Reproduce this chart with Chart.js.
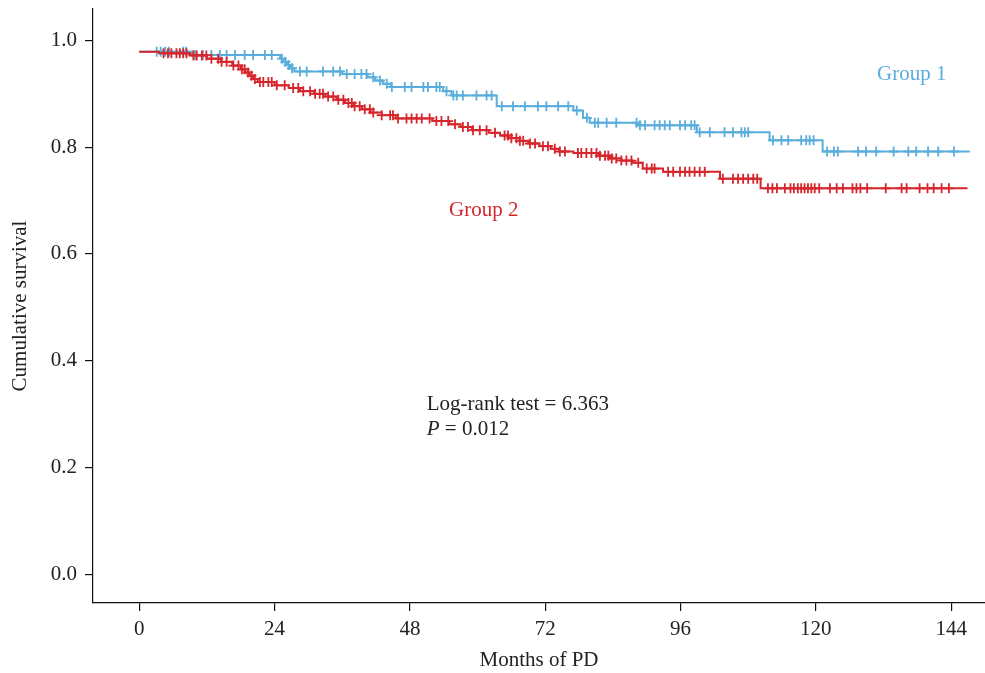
<!DOCTYPE html>
<html>
<head>
<meta charset="utf-8">
<script src="https://cdn.jsdelivr.net/npm/chart.js@4/dist/chart.umd.min.js"></script>
<style>
  html, body { margin: 0; padding: 0; background: #fff; }
  #km { display: block; }
</style>
</head>
<body>
<canvas id="km" width="985" height="673"></canvas>
<script>
// Kaplan–Meier: two groups, stepped survival + censor crosses
const BLUE = "#5aaedc";
const RED = "#d6262c";
const FONT = "'Liberation Serif', 'DejaVu Serif', serif";
const FS = 21;

const xTicks = [0, 24, 48, 72, 96, 120, 144];
const yTicks = [0, 0.2, 0.4, 0.6, 0.8, 1.0];

// step points: [month, cumulative survival] — drop happens at the month
const g1Steps = [
  [0, 0.979], [9.5, 0.973], [25, 0.966], [25.6, 0.960], [26.2, 0.954], [26.8, 0.948],
  [27.5, 0.942], [36, 0.937], [40.5, 0.931], [41.8, 0.925], [43.2, 0.919], [44.6, 0.913],
  [53.9, 0.905], [55.4, 0.897], [63.4, 0.877], [77, 0.869], [78.7, 0.855], [79.9, 0.846],
  [88.5, 0.841], [98.9, 0.828], [111.8, 0.813], [121.2, 0.792], [147.3, 0.792],
];
const g1Censor = [
  3.1, 3.8, 4.6, 5.3, 7.8, 8.3, 9.9, 11.3, 12.8, 14.3, 15.5, 17, 18.7, 20.2, 22.3, 23.5,
  25.3, 25.9, 26.5, 27.1, 28.5, 29.7, 32.6, 34.4, 35.6, 36.8, 38.2, 39.4, 40.3, 41.5,
  42.7, 43.9, 44.8, 47.1, 48.3, 50.4, 51.2, 52.7, 53.3, 54.5, 55.7, 56.3, 57.4, 59.8,
  61.6, 62.5, 64.3, 66.3, 68.4, 70.7, 72.2, 74.3, 76.1, 77.6, 79.4, 80.8, 81.4, 82.9,
  84.6, 88.2, 88.8, 89.7, 91.4, 92.3, 93.2, 94.1, 95.9, 96.8, 97.9, 98.5, 99.4, 101.2,
  103.8, 105.3, 106.8, 107.4, 108, 112.4, 113.9, 115.1, 117.4, 118.3, 118.9, 119.6,
  122, 123.2, 123.9, 127.5, 128.9, 130.7, 133.8, 136.4, 137.8, 139.9, 141.7, 144.5,
];

const g2Steps = [
  [0, 0.979], [3.5, 0.976], [9, 0.972], [12, 0.966], [14.5, 0.960], [16.5, 0.953],
  [18, 0.946], [18.8, 0.940], [19.5, 0.934], [20.2, 0.928], [21, 0.922], [24, 0.916],
  [26.5, 0.911], [28.5, 0.905], [31, 0.900], [33, 0.895], [35, 0.889], [36.5, 0.883],
  [38, 0.877], [39.5, 0.871], [41, 0.865], [43, 0.860], [45.5, 0.854], [52, 0.849],
  [55, 0.843], [57, 0.838], [59, 0.832], [62, 0.827], [64, 0.822], [65.5, 0.817],
  [67.5, 0.812], [69, 0.807], [71, 0.802], [73, 0.797], [74.5, 0.792], [77, 0.789],
  [81.5, 0.784], [83.5, 0.779], [85.5, 0.775], [87.5, 0.771], [89.3, 0.760],
  [92.9, 0.754], [103, 0.741], [110.2, 0.723], [146.9, 0.723],
];
const g2Censor = [
  4.3, 5.1, 5.7, 6.6, 7.2, 7.8, 8.4, 9.6, 10.2, 11.1, 11.9, 12.8, 14, 14.6, 15.5,
  16.7, 17.6, 18.2, 18.7, 19.3, 19.9, 20.5, 21.4, 22, 22.9, 23.5, 24.4, 25.8, 27.3,
  28.2, 29.1, 30.3, 31.2, 32, 32.6, 33.5, 34.4, 35.3, 36.2, 37.1, 37.7, 38.2, 39.1,
  40, 40.9, 41.5, 43, 44.5, 45, 45.9, 47.4, 48.3, 49.2, 50.1, 51.5, 52.7, 53.6, 54.8,
  56, 57.4, 58.3, 59.2, 60.4, 61.6, 63.1, 64.8, 65.4, 66, 66.9, 67.5, 68.1, 69.3, 70.2,
  71.6, 72.5, 73.7, 74.6, 75.5, 77.8, 78.4, 79.3, 80.2, 81.1, 81.7, 82.6, 83.2, 83.8,
  84.6, 85.5, 86.4, 87.3, 88.5, 90, 90.9, 91.4, 93.8, 94.7, 95.9, 96.8, 97.6, 98.5,
  99.4, 100.3, 103.5, 105.3, 106.2, 107.1, 108, 108.9, 109.6, 111.5, 112.3, 113.1,
  114.5, 115.5, 116.1, 116.8, 117.4, 118, 118.6, 119.2, 119.8, 120.6, 122.5, 123.7,
  124.8, 126.5, 127.2, 127.9, 129.1, 132.4, 135.2, 136.1, 138.4, 139.8, 140.9, 142.3, 143.6,
];

// survival value in effect at month t (last step at or before t)
function survAt(steps, t) {
  let s = steps[0][1];
  for (const [m, v] of steps) if (m <= t) s = v;
  return s;
}
const toXY = (steps) => steps.map(([x, y]) => ({ x, y }));
const censorXY = (steps, times) => times.map((t) => ({ x: t, y: survAt(steps, t) }));

const lineDs = (steps, color) => ({
  data: toXY(steps), borderColor: color, borderWidth: 2, stepped: "before",
  pointRadius: 0, fill: false,
});
const censorDs = (steps, times, color) => ({
  data: censorXY(steps, times), showLine: false, pointStyle: "cross",
  pointRadius: 5, pointBorderWidth: 1.8, borderColor: color, pointBorderColor: color,
});

// free text placed in data coordinates
const notes = [
  { text: "Group 1", x: 137, y: 0.937, color: BLUE, align: "center" },
  { text: "Group 2", x: 61.1, y: 0.682, color: RED, align: "center" },
  { text: "Log-rank test = 6.363", x: 51, y: 0.318, color: "#222", align: "left" },
];

const axisGrid = { display: true, drawOnChartArea: false, drawTicks: true, tickLength: 8, color: "#111", lineWidth: 1.2 };

new Chart(document.getElementById("km"), {
  type: "line",
  data: {
    // first dataset draws on top
    datasets: [
      censorDs(g2Steps, g2Censor, RED), lineDs(g2Steps, RED),
      censorDs(g1Steps, g1Censor, BLUE), lineDs(g1Steps, BLUE),
    ],
  },
  options: {
    responsive: false,
    animation: false,
    // autoPadding would reserve room for the point radius on the right edge
    layout: { autoPadding: false, padding: { top: 9, right: 0, left: 0, bottom: 0 } },
    plugins: { legend: { display: false }, tooltip: { enabled: false } },
    scales: {
      x: {
        type: "linear", min: -8.2, max: 150,
        afterBuildTicks: (s) => { s.ticks = xTicks.map((v) => ({ value: v })); },
        afterFit: (s) => { s.height = 70; s.paddingLeft = 0; s.paddingRight = 0; },
        border: { display: true, color: "#111", width: 1.2 },
        grid: axisGrid,
        ticks: { color: "#222", font: { family: FONT, size: FS }, padding: 6, maxRotation: 0 },
        title: { display: true, text: "Months of PD", color: "#222", font: { family: FONT, size: FS }, padding: { top: 0, bottom: 0 } },
      },
      y: {
        min: -0.054, max: 1.059,
        afterBuildTicks: (s) => { s.ticks = yTicks.map((v) => ({ value: v })); },
        afterFit: (s) => { s.width = 93; s.paddingTop = 0; s.paddingBottom = 0; },
        border: { display: true, color: "#111", width: 1.2 },
        grid: axisGrid,
        ticks: { color: "#222", font: { family: FONT, size: FS }, padding: 8, callback: (v) => v.toFixed(1) },
        title: { display: true, text: "Cumulative survival", color: "#222", font: { family: FONT, size: FS }, padding: { top: 8, bottom: 4 } },
      },
    },
  },
  plugins: [{
    id: "notes",
    afterDraw(chart) {
      const g = chart.ctx, xs = chart.scales.x, ys = chart.scales.y;
      g.save();
      g.font = `${FS}px ${FONT}`;
      g.textBaseline = "middle";
      for (const n of notes) {
        g.fillStyle = n.color;
        g.textAlign = n.align;
        g.fillText(n.text, xs.getPixelForValue(n.x), ys.getPixelForValue(n.y));
      }
      // "P = 0.012" with italic P
      const px = xs.getPixelForValue(51), py = ys.getPixelForValue(0.271);
      g.fillStyle = "#222";
      g.textAlign = "left";
      g.font = `italic ${FS}px ${FONT}`;
      g.fillText("P", px, py);
      const w = g.measureText("P").width;
      g.font = `${FS}px ${FONT}`;
      g.fillText(" = 0.012", px + w, py);
      g.restore();
    },
  }],
});
</script>
</body>
</html>
